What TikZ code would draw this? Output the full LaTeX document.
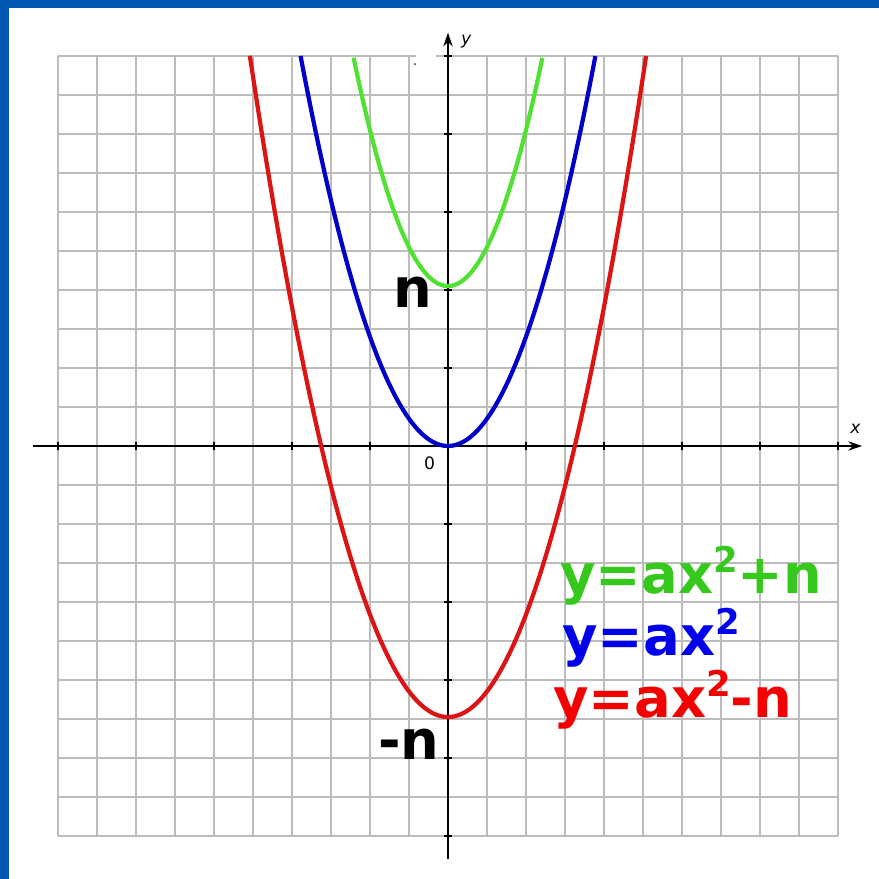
\documentclass[tikz,border=0pt]{standalone}
\usepackage{fontspec}
\setmainfont{DejaVu Sans}
\usetikzlibrary{arrows.meta}
\definecolor{bgblue}{RGB}{0,88,176}
\definecolor{gridgray}{RGB}{188,188,188}
\definecolor{cgreen}{RGB}{80,225,50}
\definecolor{tgreen}{RGB}{55,200,30}
\definecolor{cblue}{RGB}{0,0,200}
\definecolor{tblue}{RGB}{0,0,235}
\definecolor{cred}{RGB}{220,20,20}
\definecolor{tred}{RGB}{245,0,0}
\newcommand\sqtwo{\raisebox{8.8pt}{\fontsize{15.5}{15.5}\selectfont 2}}
\tikzset{
  gridline/.style={gridgray, line width=0.8pt},
  axisline/.style={black, line width=1.1pt},
  axisarrow/.style={axisline, -{Stealth[length=6pt,width=4pt]}},
  tickmark/.style={black, line width=0.9pt},
  curve/.style={line width=1.85pt, smooth, samples=120},
  smalllbl/.style={font=\fontsize{7.5}{8}\selectfont, inner sep=0pt},
  biglbl/.style={font=\fontsize{23.8}{26}\selectfont\bfseries, inner sep=0pt, anchor=base west},
}
\begin{document}
\begin{tikzpicture}[x=0.6cm,y=0.6cm]
\useasboundingbox (-11.487,-11.103) rectangle (11.051,11.436);
\fill[bgblue] (-11.487,-11.103) rectangle (11.051,11.436);
\fill[white] (-11.256,-11.103) rectangle (11.051,11.231);
% grid
\draw[gridline, step=0.6cm] (-10,-10) grid (10,10);
\draw[white, line width=1.4pt] (-0.82,10) -- (-0.3,10);
\fill[black!70] (-0.85,9.79) circle (0.5pt);
% axes
\coordinate (xs) at (-10.64,0);
\coordinate (xe) at (10.62,0);
\coordinate (ys) at (0,-10.6);
\coordinate (ye) at (0,10.6);
\draw[axisarrow] (xs) -- (xe);
\draw[axisarrow] (ys) -- (ye);
\foreach \t in {-10,-8,-6,-4,-2,2,4,6,8,10}{
  \draw[tickmark] (\t,-0.11) -- (\t,0.11);
  \draw[tickmark] (-0.11,\t) -- (0.11,\t);
}
\node[smalllbl] (ylbl) at (0.47,10.36) {\itshape y};
\node[smalllbl] (xlbl) at (10.45,0.45) {\itshape x};
\node[smalllbl] (olbl) at (-0.47,-0.45) {0};
% curves
\draw[curve, cgreen, domain=-2.42:2.42] plot (\x,{4.1+1.0*\x*\x});
\draw[curve, cblue, domain=-3.78:3.78] plot (\x,{0.7*\x*\x});
\draw[curve, cred, domain=-5.08:5.08] plot (\x,{-6.95+0.657*\x*\x});
% labels
\node[biglbl] (nlbl) at (-1.42,3.56) {n};
\node[biglbl] (mnlbl) at (-1.80,-8.05) {-n};
\node[biglbl, text=tgreen] (eqg) at (2.87,-3.77) {y=ax\sqtwo+n};
\node[biglbl, text=tblue] (eqb) at (2.92,-5.36) {y=ax\sqtwo};
\node[biglbl, text=tred] (eqr) at (2.69,-6.95) {y=ax\sqtwo-n};
\end{tikzpicture}
\end{document}
